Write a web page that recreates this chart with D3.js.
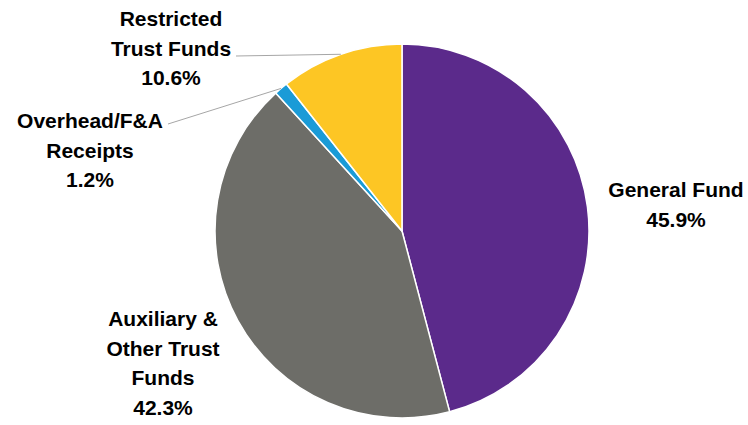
<!DOCTYPE html>
<html><head><meta charset="utf-8">
<script src="https://cdn.jsdelivr.net/npm/d3@7"></script>
<style>html,body{margin:0;padding:0;background:#fff;}svg{display:block;}</style>
</head><body>
<script>
const categories = ["General Fund", "Auxiliary & Other Trust Funds", "Overhead/F&A Receipts", "Restricted Trust Funds"];
const values = [45.9, 42.3, 1.2, 10.6];
const labelLines = [["General Fund"], ["Auxiliary &", "Other Trust", "Funds"], ["Overhead/F&A", "Receipts"], ["Restricted", "Trust Funds"]];
const colors = ["#5B2A8B", "#6D6D68", "#1A9BD7", "#FDC624"];

const W = 748, H = 425;
const cx = 402, cy = 231, R = 187;
// label layout: center x, first baseline, and leader start (if any)
const labelLayout = [
  {x: 676, y: 197, leader: null},
  {x: 163, y: 326, leader: null},
  {x: 90, y: 128, leader: [168, 124]},
  {x: 171, y: 26, leader: [236, 56]}
];
const lineH = 29.5;

const svg = d3.select("body").append("svg").attr("width", W).attr("height", H);
const g = svg.append("g").attr("transform", `translate(${cx},${cy})`);
const pie = d3.pie().sort(null).value(d => d)(values);
const arc = d3.arc().innerRadius(0).outerRadius(R);

g.selectAll("path").data(pie).join("path")
  .attr("d", arc).attr("fill", (d, i) => colors[i])
  .attr("stroke", "#fff").attr("stroke-width", 1.5).attr("stroke-linejoin", "round");

// leader lines to mid-angle on edge
pie.forEach((d, i) => {
  const L = labelLayout[i];
  if (!L.leader) return;
  const a = (d.startAngle + d.endAngle) / 2;
  const ex = cx + R * Math.sin(a), ey = cy - R * Math.cos(a);
  svg.append("line").attr("x1", L.leader[0]).attr("y1", L.leader[1])
    .attr("x2", ex).attr("y2", ey).attr("stroke", "#A6A6A6").attr("stroke-width", 1);
});

pie.forEach((d, i) => {
  const L = labelLayout[i];
  const lines = labelLines[i].concat([d3.format(".1f")(values[i]) + "%"]);
  const t = svg.append("text").attr("text-anchor", "middle")
    .attr("font-family", "'Liberation Sans', Arial, sans-serif").attr("font-weight", "bold")
    .attr("font-size", 21).attr("fill", "#000");
  lines.forEach((s, k) => t.append("tspan").attr("x", L.x).attr("y", L.y + k * lineH).text(s));
});
</script>
</body></html>
